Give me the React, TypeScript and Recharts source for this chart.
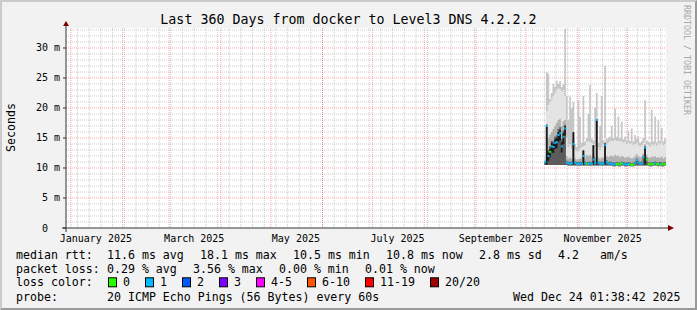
import React from 'react';
import {
  ComposedChart,
  Area,
  Line,
  XAxis,
  YAxis,
  CartesianGrid,
  ReferenceDot,
} from 'recharts';

const FONT = '"DejaVu Sans Mono", monospace';
const AXIS = '#333333';
const ARROW = '#7f0000';
const DAY = 86400000;

// graph window: last 360 days up to Wed Dec 24 01:38:42 2025
const END = Date.UTC(2025, 11, 24, 1, 38, 42);
const START = END - 360 * DAY;
const FIRST_DAY = Date.UTC(2025, 9, 12);
const Y_MAX = 33.33;

const MONTH_LABELS = ['January 2025', 'March 2025', 'May 2025', 'July 2025', 'September 2025', 'November 2025'];
const LABEL_AT = [
  Date.UTC(2025, 0, 16), Date.UTC(2025, 2, 16), Date.UTC(2025, 4, 16),
  Date.UTC(2025, 6, 16), Date.UTC(2025, 8, 16), Date.UTC(2025, 10, 16),
];
const Y_TICKS = [0, 5, 10, 15, 20, 25, 30];
const Y_LABELS = ['0', '5 m', '10 m', '15 m', '20 m', '25 m', '30 m'];

const LOSS_LABELS = ['0', '1', '2', '3', '4-5', '6-10', '11-19', '20/20'];
const LOSS_COLORS = ['#26ff00', '#00b8ff', '#0059ff', '#7e00ff', '#ff00ff', '#ff5500', '#ff0000', '#a10000'];

// one value per day from Oct 12 2025 (ms)
const MEDIAN = [
  11.0, 17.0, 12.0, 12.7, 13.6, 13.5, 14.2, 14.3, 15.5, 15.8,
  13.6, 15.2, 16.6, 10.9, 10.8, 10.7, 10.8, 14.0, 10.9, 10.7,
  10.7, 10.8, 10.7, 12.0, 10.8, 10.7, 10.7, 10.8, 10.7, 11.4,
  10.8, 18.0, 10.9, 10.7, 10.8, 10.7, 13.8, 11.0, 10.7, 10.8,
  10.7, 10.6, 10.6, 10.7, 10.6, 10.6, 10.8, 10.7, 10.6, 10.6,
  10.7, 10.6, 10.5, 10.6, 10.8, 11.3, 10.9, 10.7, 10.8, 11.8,
  13.4, 11.4, 10.7, 10.6, 10.6, 10.7, 10.8, 10.7, 10.6, 10.7,
  10.6, 10.6, 10.7, 10.6,
];
// lost pings out of 20
const LOSS = [
  1, 1, 1, 0, 1, 1, 1, 1, 1, 1,
  1, 1, 1, 1, 1, 1, 1, 1, 1, 1,
  1, 1, 1, 1, 1, 0, 1, 1, 1, 1,
  1, 1, 1, 1, 1, 1, 1, 1, 1, 1,
  1, 1, 1, 0, 0, 0, 0, 1, 1, 1,
  1, 0, 0, 0, 1, 1, 1, 1, 1, 1,
  1, 0, 0, 0, 0, 0, 1, 0, 0, 1,
  0, 0, 0, 0,
];
const LO = [
  10.5, 10.5, 10.5, 10.5, 10.5, 10.5, 10.5, 10.5, 10.5, 10.5,
  10.5, 10.5, 10.5, 10.5, 10.4, 10.4, 10.4, 10.4, 10.4, 10.4,
  10.4, 10.4, 10.4, 10.4, 10.4, 10.4, 10.4, 10.4, 10.4, 10.4,
  10.4, 10.4, 10.4, 10.4, 10.4, 10.4, 10.4, 10.4, 10.4, 10.4,
  10.4, 10.3, 10.3, 10.4, 10.3, 10.3, 10.4, 10.4, 10.3, 10.3,
  10.4, 10.3, 10.3, 10.3, 10.4, 10.4, 10.4, 10.4, 10.4, 10.4,
  10.4, 10.4, 10.4, 10.3, 10.3, 10.4, 10.4, 10.4, 10.3, 10.4,
  10.3, 10.3, 10.4, 10.3,
];
const HI = [
  12.0, 26.0, 25.7, 21.5, 22.5, 24.0, 23.5, 24.5, 24.0, 24.5,
  23.5, 24.0, 33.2, 22.0, 18.0, 21.9, 20.0, 21.0, 14.0, 13.5,
  21.3, 18.5, 14.2, 22.0, 14.4, 15.0, 19.0, 23.8, 15.0, 14.6,
  20.0, 22.5, 14.2, 17.0, 22.0, 14.6, 27.0, 14.8, 15.0, 15.2,
  17.0, 15.0, 19.9, 15.2, 18.6, 15.0, 17.7, 14.8, 15.2, 14.6,
  16.2, 14.5, 16.6, 14.4, 15.5, 14.8, 15.3, 14.2, 14.5, 15.0,
  21.3, 14.6, 14.4, 14.2, 19.7, 14.4, 18.6, 14.3, 18.0, 14.5,
  16.7, 14.4, 15.0, 14.2,
];
const LIGHT = [
  12.0, 19.5, 20.5, 21.0, 21.5, 22.0, 22.5, 23.0, 23.3, 23.2,
  22.8, 23.0, 22.0, 15.0, 13.5, 14.0, 13.2, 16.0, 13.0, 12.8,
  12.8, 13.2, 13.5, 13.6, 13.8, 14.4, 14.4, 14.4, 14.2, 14.0,
  13.5, 18.5, 13.5, 13.0, 13.5, 14.0, 15.0, 14.0, 14.2, 14.5,
  14.6, 14.4, 14.7, 14.5, 14.6, 14.4, 14.5, 14.2, 14.4, 14.0,
  14.3, 14.0, 14.2, 13.8, 14.0, 14.2, 13.8, 13.6, 13.8, 14.2,
  14.6, 14.0, 13.8, 13.6, 14.0, 13.8, 14.1, 13.7, 14.2, 13.9,
  14.3, 13.8, 14.0, 13.6,
];
const MID = [
  11.2, 17.3, 15.0, 15.5, 16.0, 16.5, 17.0, 17.5, 18.0, 18.2,
  17.0, 17.8, 18.0, 12.0, 11.6, 11.8, 11.5, 15.0, 11.6, 11.4,
  11.5, 11.6, 11.7, 13.0, 11.8, 12.2, 12.0, 12.2, 11.9, 12.4,
  11.8, 18.3, 11.8, 11.5, 11.8, 11.7, 14.3, 12.0, 11.8, 12.0,
  12.1, 11.9, 12.2, 12.0, 12.1, 11.8, 12.0, 11.9, 11.7, 11.8,
  11.9, 11.7, 11.6, 11.7, 11.9, 12.3, 12.0, 11.8, 11.9, 12.4,
  14.0, 12.2, 11.8, 11.7, 11.9, 11.8, 12.0, 11.7, 11.8, 11.7,
  11.9, 11.6, 11.8, 11.6,
];
const DARK = [
  11.0, 17.0, 13.0, 13.6, 14.5, 14.4, 15.2, 15.4, 16.5, 16.8,
  14.8, 16.2, 17.2, 11.2, 11.1, 11.0, 11.1, 15.8, 11.1, 11.0,
  11.0, 11.1, 11.0, 12.9, 11.1, 11.0, 11.0, 11.1, 11.0, 13.8,
  11.1, 18.0, 11.1, 11.0, 11.1, 11.0, 14.1, 11.3, 11.0, 11.1,
  11.0, 10.9, 10.9, 11.0, 10.9, 10.9, 11.1, 11.0, 10.9, 10.9,
  11.0, 10.9, 10.8, 10.9, 11.1, 11.6, 11.2, 11.0, 11.1, 12.1,
  13.6, 11.7, 11.0, 10.9, 10.9, 11.0, 11.1, 11.0, 10.9, 11.0,
  10.9, 10.9, 11.0, 10.9,
];
const CORE_LO = [
  11.0, 10.6, 11.2, 11.8, 12.6, 12.5, 13.2, 13.3, 14.3, 14.6,
  12.6, 14.0, 15.4, 10.9, 10.8, 10.7, 10.8, 10.6, 10.9, 10.7,
  10.7, 10.8, 10.7, 10.6, 10.8, 10.7, 10.7, 10.8, 10.7, 10.6,
  10.8, 10.6, 10.9, 10.7, 10.8, 10.7, 10.6, 11.0, 10.7, 10.8,
  10.7, 10.6, 10.6, 10.7, 10.6, 10.6, 10.8, 10.7, 10.6, 10.6,
  10.7, 10.6, 10.5, 10.6, 10.8, 11.3, 10.9, 10.7, 10.8, 11.8,
  10.6, 11.4, 10.7, 10.6, 10.6, 10.7, 10.8, 10.7, 10.6, 10.7,
  10.6, 10.6, 10.7, 10.6,
];
const CORE_HI = [
  11.0, 17.2, 12.6, 13.2, 14.2, 14.0, 14.8, 15.0, 16.0, 16.3,
  14.3, 15.8, 17.0, 10.9, 10.8, 10.7, 10.8, 16.0, 10.9, 10.7,
  10.7, 10.8, 10.7, 12.9, 10.8, 10.7, 10.7, 10.8, 10.7, 13.8,
  10.8, 18.0, 10.9, 10.7, 10.8, 10.7, 14.1, 11.0, 10.7, 10.8,
  10.7, 10.6, 10.6, 10.7, 10.6, 10.6, 10.8, 10.7, 10.6, 10.6,
  10.7, 10.6, 10.5, 10.6, 10.8, 11.3, 10.9, 10.7, 10.8, 11.8,
  13.6, 11.4, 10.7, 10.6, 10.6, 10.7, 10.8, 10.7, 10.6, 10.7,
  10.6, 10.6, 10.7, 10.6,
];

const data = MEDIAN.map((median, i) => ({
  t: FIRST_DAY + i * DAY,
  lo: LO[i],
  hi: HI[i],
  light: LIGHT[i],
  mid: MID[i],
  dark: DARK[i],
  coreLo: CORE_LO[i],
  coreHi: CORE_HI[i],
  median,
  loss: LOSS[i],
}));

// grid positions: Sundays and first of each month
const WEEKS: number[] = [];
for (let t = Date.UTC(2025, 0, 5); t < END; t += 7 * DAY) WEEKS.push(t);
const MONTHS: number[] = [];
for (let m = 0; m < 12; m++) MONTHS.push(Date.UTC(2025, m, 1));
const MINOR_Y: number[] = [];
for (let v = 1; v <= 33; v++) if (v % 5 !== 0) MINOR_Y.push(v);
const MAJOR_Y = [5, 10, 15, 20, 25, 30];

const XTick = (props: any) => {
  const { x, y, payload } = props;
  const label = MONTH_LABELS[LABEL_AT.indexOf(payload.value)];
  return (
    <text x={x} y={y + 10} textAnchor="middle" dominantBaseline="central"
      fontFamily={FONT} fontSize={10} fill="#000">{label}</text>
  );
};

const YTick = (props: any) => {
  const { x, y, payload } = props;
  const label = Y_LABELS[Y_TICKS.indexOf(payload.value)];
  const pad = label.endsWith('m') ? 0 : 12;
  return (
    <text x={x - pad} y={y} textAnchor="end" dominantBaseline="central"
      fontFamily={FONT} fontSize={10} fill="#000">{label}</text>
  );
};

const MedianMark = (p: any) => {
  const { cx, cy, payload, index } = p;
  if (cx == null || cy == null) return <g key={`m-${index}`} />;
  return <rect key={`m-${index}`} x={cx} y={cy - 1} width={2} height={2} fill={LOSS_COLORS[payload.loss]} />;
};

const RTT_ITEMS = ['11.6 ms avg', '18.1 ms max', '10.5 ms min', '10.8 ms now', '2.8 ms sd', '4.2   am/s'];
const LOSS_ITEMS = ['0.29 % avg', '3.56 % max', '0.00 % min', '0.01 % now'];

const CH = 7; // legend char advance

function rowItems(items: string[], y: number) {
  let x = 107;
  return items.map((s, i) => {
    const el = (
      <text key={i} x={x} y={y} style={{ whiteSpace: 'pre' }}>{s}</text>
    );
    x += s.length * CH + 16;
    return el;
  });
}

function lossLegend(y: number) {
  let x = 108;
  return LOSS_LABELS.map((s, i) => {
    const el = (
      <g key={i}>
        <rect x={x + 0.5} y={y - 4.5} width={8} height={9} fill={LOSS_COLORS[i]} stroke="#000" strokeWidth={1} />
        <text x={x + 15} y={y}>{s}</text>
      </g>
    );
    x += 15 + s.length * CH + 15;
    return el;
  });
}

export default function App() {
  return (
    <div style={{ position: 'absolute', left: 0, top: 0, width: 697, height: 310, background: '#f2f2f2' }}>
      <ComposedChart
        width={697}
        height={310}
        data={data}
        margin={{ top: 28, right: 31, bottom: 52, left: 6 }}
      >
        <CartesianGrid
          fill="#ffffff"
          stroke="#000"
          strokeOpacity={0.2}
          strokeDasharray="1 1"
          horizontalValues={MINOR_Y}
          verticalValues={WEEKS}
        />
        <CartesianGrid
          stroke="#ff0000"
          strokeOpacity={0.35}
          strokeDasharray="1 1"
          horizontalValues={MAJOR_Y}
          verticalValues={MONTHS}
        />
        <XAxis
          dataKey="t"
          type="number"
          domain={[START, END]}
          allowDataOverflow
          ticks={LABEL_AT}
          interval={0}
          tickSize={0}
          tickMargin={0}
          tickLine={false}
          tick={<XTick />}
          axisLine={{ stroke: AXIS }}
          height={30}
        />
        <YAxis
          type="number"
          domain={[0, Y_MAX]}
          allowDataOverflow
          ticks={Y_TICKS}
          interval={0}
          width={60}
          tickSize={3}
          tickMargin={3}
          tick={<YTick />}
          tickLine={{ stroke: AXIS }}
          axisLine={{ stroke: AXIS }}
        />
        <Area dataKey={(d: any) => [d.lo, d.hi]} type="stepAfter" stroke="none" fill="#c6c6c6" fillOpacity={1} isAnimationActive={false} />
        <Area dataKey={(d: any) => [d.lo, d.light]} type="stepAfter" stroke="none" fill="#e4e4e4" fillOpacity={1} isAnimationActive={false} />
        <Area dataKey={(d: any) => [d.lo, d.mid]} type="stepAfter" stroke="none" fill="#b2b2b2" fillOpacity={1} isAnimationActive={false} />
        <Area dataKey={(d: any) => [d.lo, d.dark]} type="stepAfter" stroke="none" fill="#5c5c5c" fillOpacity={1} isAnimationActive={false} />
        <Area dataKey={(d: any) => [d.coreLo, d.coreHi]} type="stepAfter" stroke="none" fill="#1a1a1a" fillOpacity={1} isAnimationActive={false} />
        <Line dataKey="median" type="stepAfter" stroke="none" dot={MedianMark} activeDot={false} isAnimationActive={false} />
        <ReferenceDot
          x={START}
          y={0}
          ifOverflow="visible"
          shape={(p: any) => (
            <g>
              <line x1={p.cx - 4} y1={p.cy} x2={p.cx} y2={p.cy} stroke={AXIS} />
              <line x1={p.cx} y1={p.cy} x2={p.cx} y2={p.cy + 4} stroke={AXIS} />
            </g>
          )}
        />
        <ReferenceDot
          x={END}
          y={0}
          ifOverflow="visible"
          shape={(p: any) => (
            <g>
              <line x1={p.cx} y1={p.cy} x2={p.cx + 4} y2={p.cy} stroke={AXIS} />
              <path d={`M${p.cx + 2},${p.cy - 3} L${p.cx + 8},${p.cy} L${p.cx + 2},${p.cy + 3} Z`} fill={ARROW} />
            </g>
          )}
        />
        <ReferenceDot
          x={START}
          y={Y_MAX}
          ifOverflow="visible"
          shape={(p: any) => (
            <g>
              <line x1={p.cx} y1={p.cy} x2={p.cx} y2={p.cy - 4} stroke={AXIS} />
              <path d={`M${p.cx - 3},${p.cy - 2} L${p.cx},${p.cy - 7} L${p.cx + 3},${p.cy - 2} Z`} fill={ARROW} />
            </g>
          )}
        />
      </ComposedChart>

      <svg width={697} height={310} style={{ position: 'absolute', left: 0, top: 0, pointerEvents: 'none' }}
        fontFamily={FONT} fill="#000">
        <text x={348.5} y={19.3} textAnchor="middle" dominantBaseline="central" fontSize={13.3}>
          Last 360 Days from docker to Level3 DNS 4.2.2.2
        </text>
        <text transform="translate(11,127.5) rotate(-90)" textAnchor="middle" dominantBaseline="central" fontSize={11.6}>
          Seconds
        </text>
        <text transform="translate(684,5) rotate(90)" fontSize={8.3} fill="#a8a8a8">
          RRDTOOL / TOBI OETIKER
        </text>
        <g fontSize={11.6} dominantBaseline="central">
          <text x={16} y={254.5}>median rtt:</text>
          {rowItems(RTT_ITEMS, 254.5)}
          <text x={16} y={268.5}>packet loss:</text>
          {rowItems(LOSS_ITEMS, 268.5)}
          <text x={16} y={282.3}>loss color:</text>
          {lossLegend(282.3)}
          <text x={16} y={296.7}>probe:</text>
          <text x={107} y={296.7}>20 ICMP Echo Pings (56 Bytes) every 60s</text>
          <text x={513} y={296.7}>Wed Dec 24 01:38:42 2025</text>
        </g>
      </svg>
      <div style={{
        position: 'absolute', left: 0, top: 0, width: 697, height: 310, boxSizing: 'border-box',
        borderTop: '2px solid #cbcbcb', borderLeft: '2px solid #cbcbcb',
        borderRight: '2px solid #999999', borderBottom: '2px solid #999999', pointerEvents: 'none',
      }} />
    </div>
  );
}
